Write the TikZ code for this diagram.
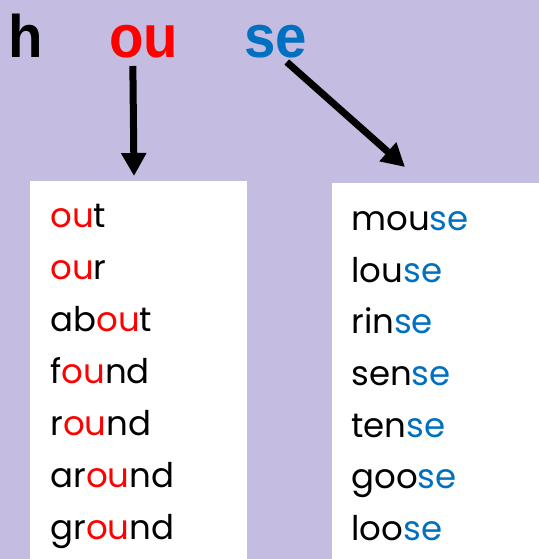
\documentclass[tikz,border=0pt]{standalone}
\usepackage{xcolor}
\usepackage{fontspec}
\usetikzlibrary{arrows.meta}
\newfontfamily\titlefont[FakeStretch=0.94]{Liberation Sans}
\newfontfamily\wordfont{Poppins}
\definecolor{bgpurple}{RGB}{197,189,225}
\definecolor{oured}{RGB}{255,0,0}
\definecolor{seblue}{RGB}{0,112,192}

\begin{document}
\begin{tikzpicture}[x=0.5pt,y=-0.5pt,
  title/.style={anchor=base west,inner sep=0pt,font=\titlefont\bfseries\fontsize{30}{30}\selectfont},
  word/.style={anchor=base west,inner sep=0pt,font=\wordfont\fontsize{17}{17}\selectfont},
  listbox/.style={fill=white,anchor=north west,inner sep=0pt,outer sep=0pt},
  bigarrow/.style={line width=3.5pt,-{Triangle[length=11.5pt,width=12pt]}}]

\fill[bgpurple] (0,0) rectangle (539,559); %background

\node[title] (h) at (8,57) {h};
\node[title,text=oured] (ou) at (109,57) {ou};
\node[title,text=seblue] (se) at (244,57) {se};

\node[listbox,minimum width=108.5pt,minimum height=189pt] (leftbox) at (30,181) {};
\node[listbox,minimum width=103.5pt,minimum height=188pt] (rightbox) at (332,183) {};

\coordinate (outip) at (134,176);
\coordinate (setip) at (405,167);
\draw[bigarrow] (ou.south) ++(-11,8) -- (outip);
\draw[bigarrow] (se.south) ++(11,4) -- (setip);

% ou words
\node[word] (out) at (50,227) {\textcolor{oured}{ou}t};
\node[word] (our) at (50,279) {\textcolor{oured}{ou}r};
\node[word] (about) at (50,331) {ab\textcolor{oured}{ou}t};
\node[word] (found) at (50,383) {f\textcolor{oured}{ou}nd};
\node[word] (round) at (50,435) {r\textcolor{oured}{ou}nd};
\node[word] (around) at (50,487) {ar\textcolor{oured}{ou}nd};
\node[word] (ground) at (50,539) {gr\textcolor{oured}{ou}nd};

% se words
\node[word] (mouse) at (351,230) {mou\textcolor{seblue}{se}};
\node[word] (louse) at (351,282) {lou\textcolor{seblue}{se}};
\node[word] (rinse) at (351,333) {rin\textcolor{seblue}{se}};
\node[word] (sense) at (351,385) {sen\textcolor{seblue}{se}};
\node[word] (tense) at (351,437) {ten\textcolor{seblue}{se}};
\node[word] (goose) at (351,488) {goo\textcolor{seblue}{se}};
\node[word] (loose) at (351,540) {loo\textcolor{seblue}{se}};

\end{tikzpicture}
\end{document}
